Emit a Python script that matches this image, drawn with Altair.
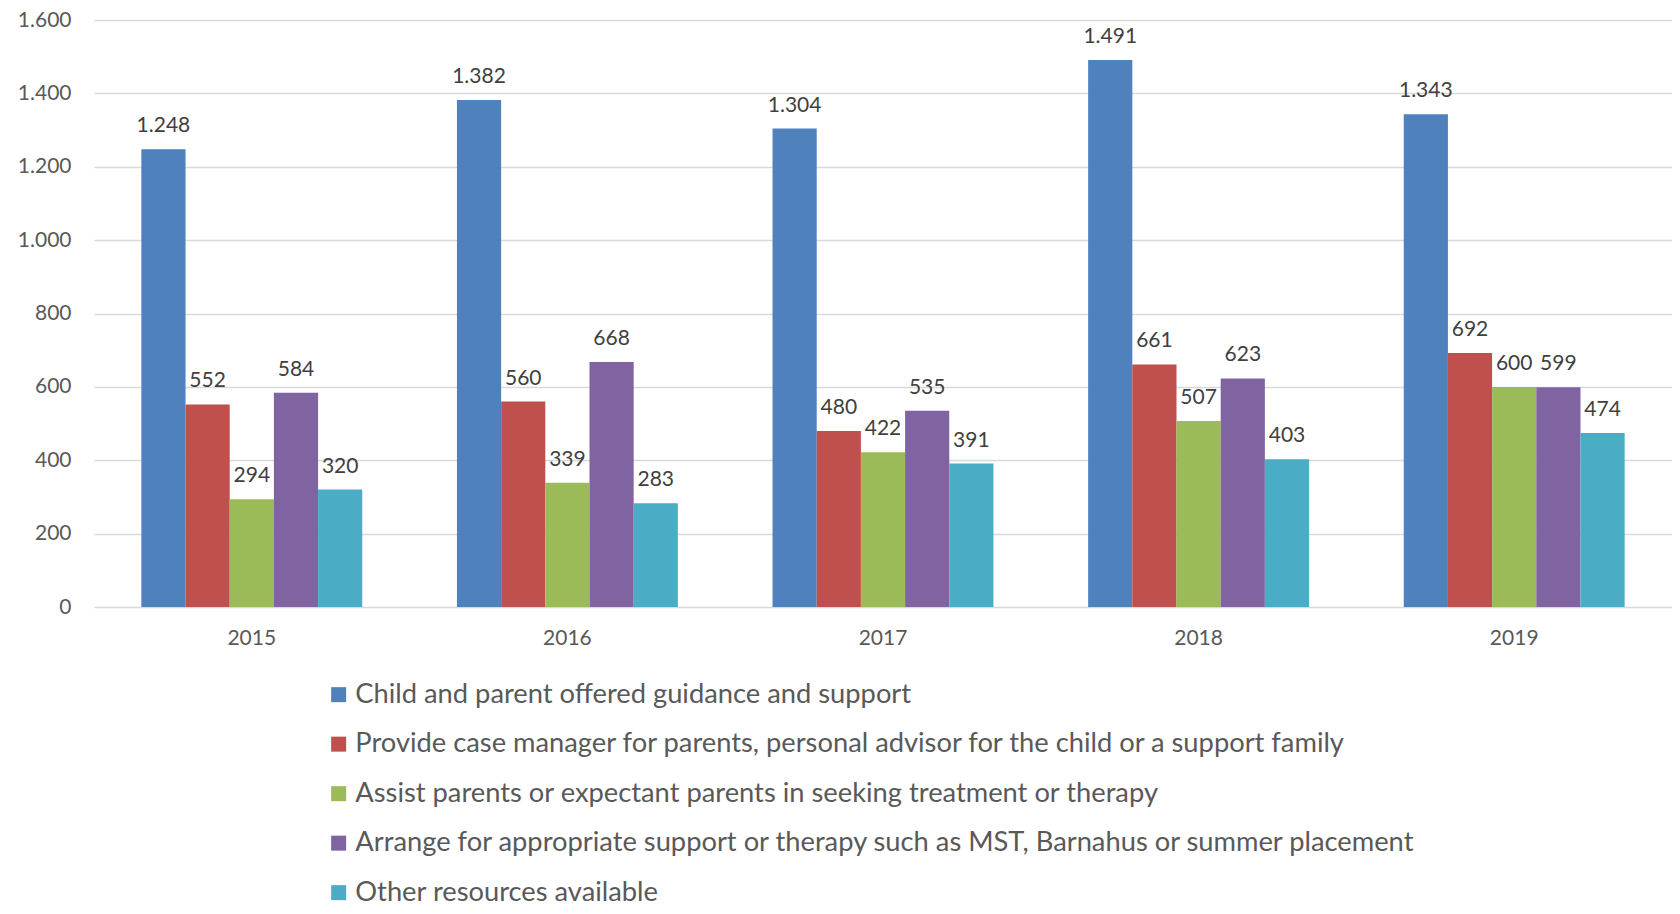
import altair as alt
import pandas as pd

FONT = "Lato"

years = ["2015", "2016", "2017", "2018", "2019"]
series = [
    "Child and parent offered guidance and support",
    "Provide case manager for parents, personal advisor for the child or a support family",
    "Assist parents or expectant parents in seeking treatment or therapy",
    "Arrange for appropriate support or therapy such as MST, Barnahus or summer placement",
    "Other resources available",
]
child_parent = [1248, 1382, 1304, 1491, 1343]
case_manager = [552, 560, 480, 661, 692]
assist_parents = [294, 339, 422, 507, 600]
arrange_support = [584, 668, 535, 623, 599]
other_resources = [320, 283, 391, 403, 474]
colors = ["#4F81BD", "#C0504D", "#9BBB59", "#8064A2", "#4BACC6"]

rows = []
for name, vals in zip(series, [child_parent, case_manager, assist_parents, arrange_support, other_resources]):
    for yr, v in zip(years, vals):
        rows.append({"year": yr, "series": name, "value": v})
df = pd.DataFrame(rows)

fmt = "replace(format(datum.value, ','), ',', '.')"

base = alt.Chart(df).encode(
    x=alt.X(
        "year:N",
        title=None,
        scale=alt.Scale(paddingInner=0.3, paddingOuter=0.15),
        axis=alt.Axis(labelAngle=0, ticks=False, domain=False, labelPadding=20,
                      labelFontSize=21, labelColor="#595959", labelFont=FONT),
    ),
    xOffset=alt.XOffset("series:N", sort=series, scale=alt.Scale(paddingInner=0, paddingOuter=0)),
)

bars = base.mark_bar().encode(
    y=alt.Y(
        "value:Q",
        title=None,
        scale=alt.Scale(domain=[0, 1600], nice=False),
        axis=alt.Axis(values=list(range(0, 1601, 200)), labelExpr=fmt, ticks=False, domain=False,
                      labelPadding=23, labelFontSize=21, labelColor="#595959", labelFont=FONT,
                      gridColor="#D9D9D9", gridWidth=1.5),
    ),
    color=alt.Color(
        "series:N",
        sort=series,
        scale=alt.Scale(domain=series, range=colors),
        legend=alt.Legend(title=None, orient="none", legendX=231, legendY=661, direction="vertical",
                          symbolType="square", symbolSize=225, symbolStrokeWidth=0,
                          labelFontSize=27.3, labelColor="#595959", labelFont=FONT, labelLimit=2000,
                          rowPadding=21.5, labelOffset=3),
    ),
)

labels = base.transform_calculate(lbl=fmt).mark_text(
    baseline="alphabetic", dy=-17, fontSize=21, color="#404040", font=FONT
).encode(y="value:Q", text="lbl:N")

chart = alt.layer(bars, labels).properties(
    width=1578,
    height=587,
    autosize=alt.AutoSizeParams(type="none"),
    padding={"left": 86, "top": 12, "right": 0, "bottom": 299},
).configure_view(stroke=None)

chart.save("out.html", embed_options={"renderer": "svg", "actions": False})
